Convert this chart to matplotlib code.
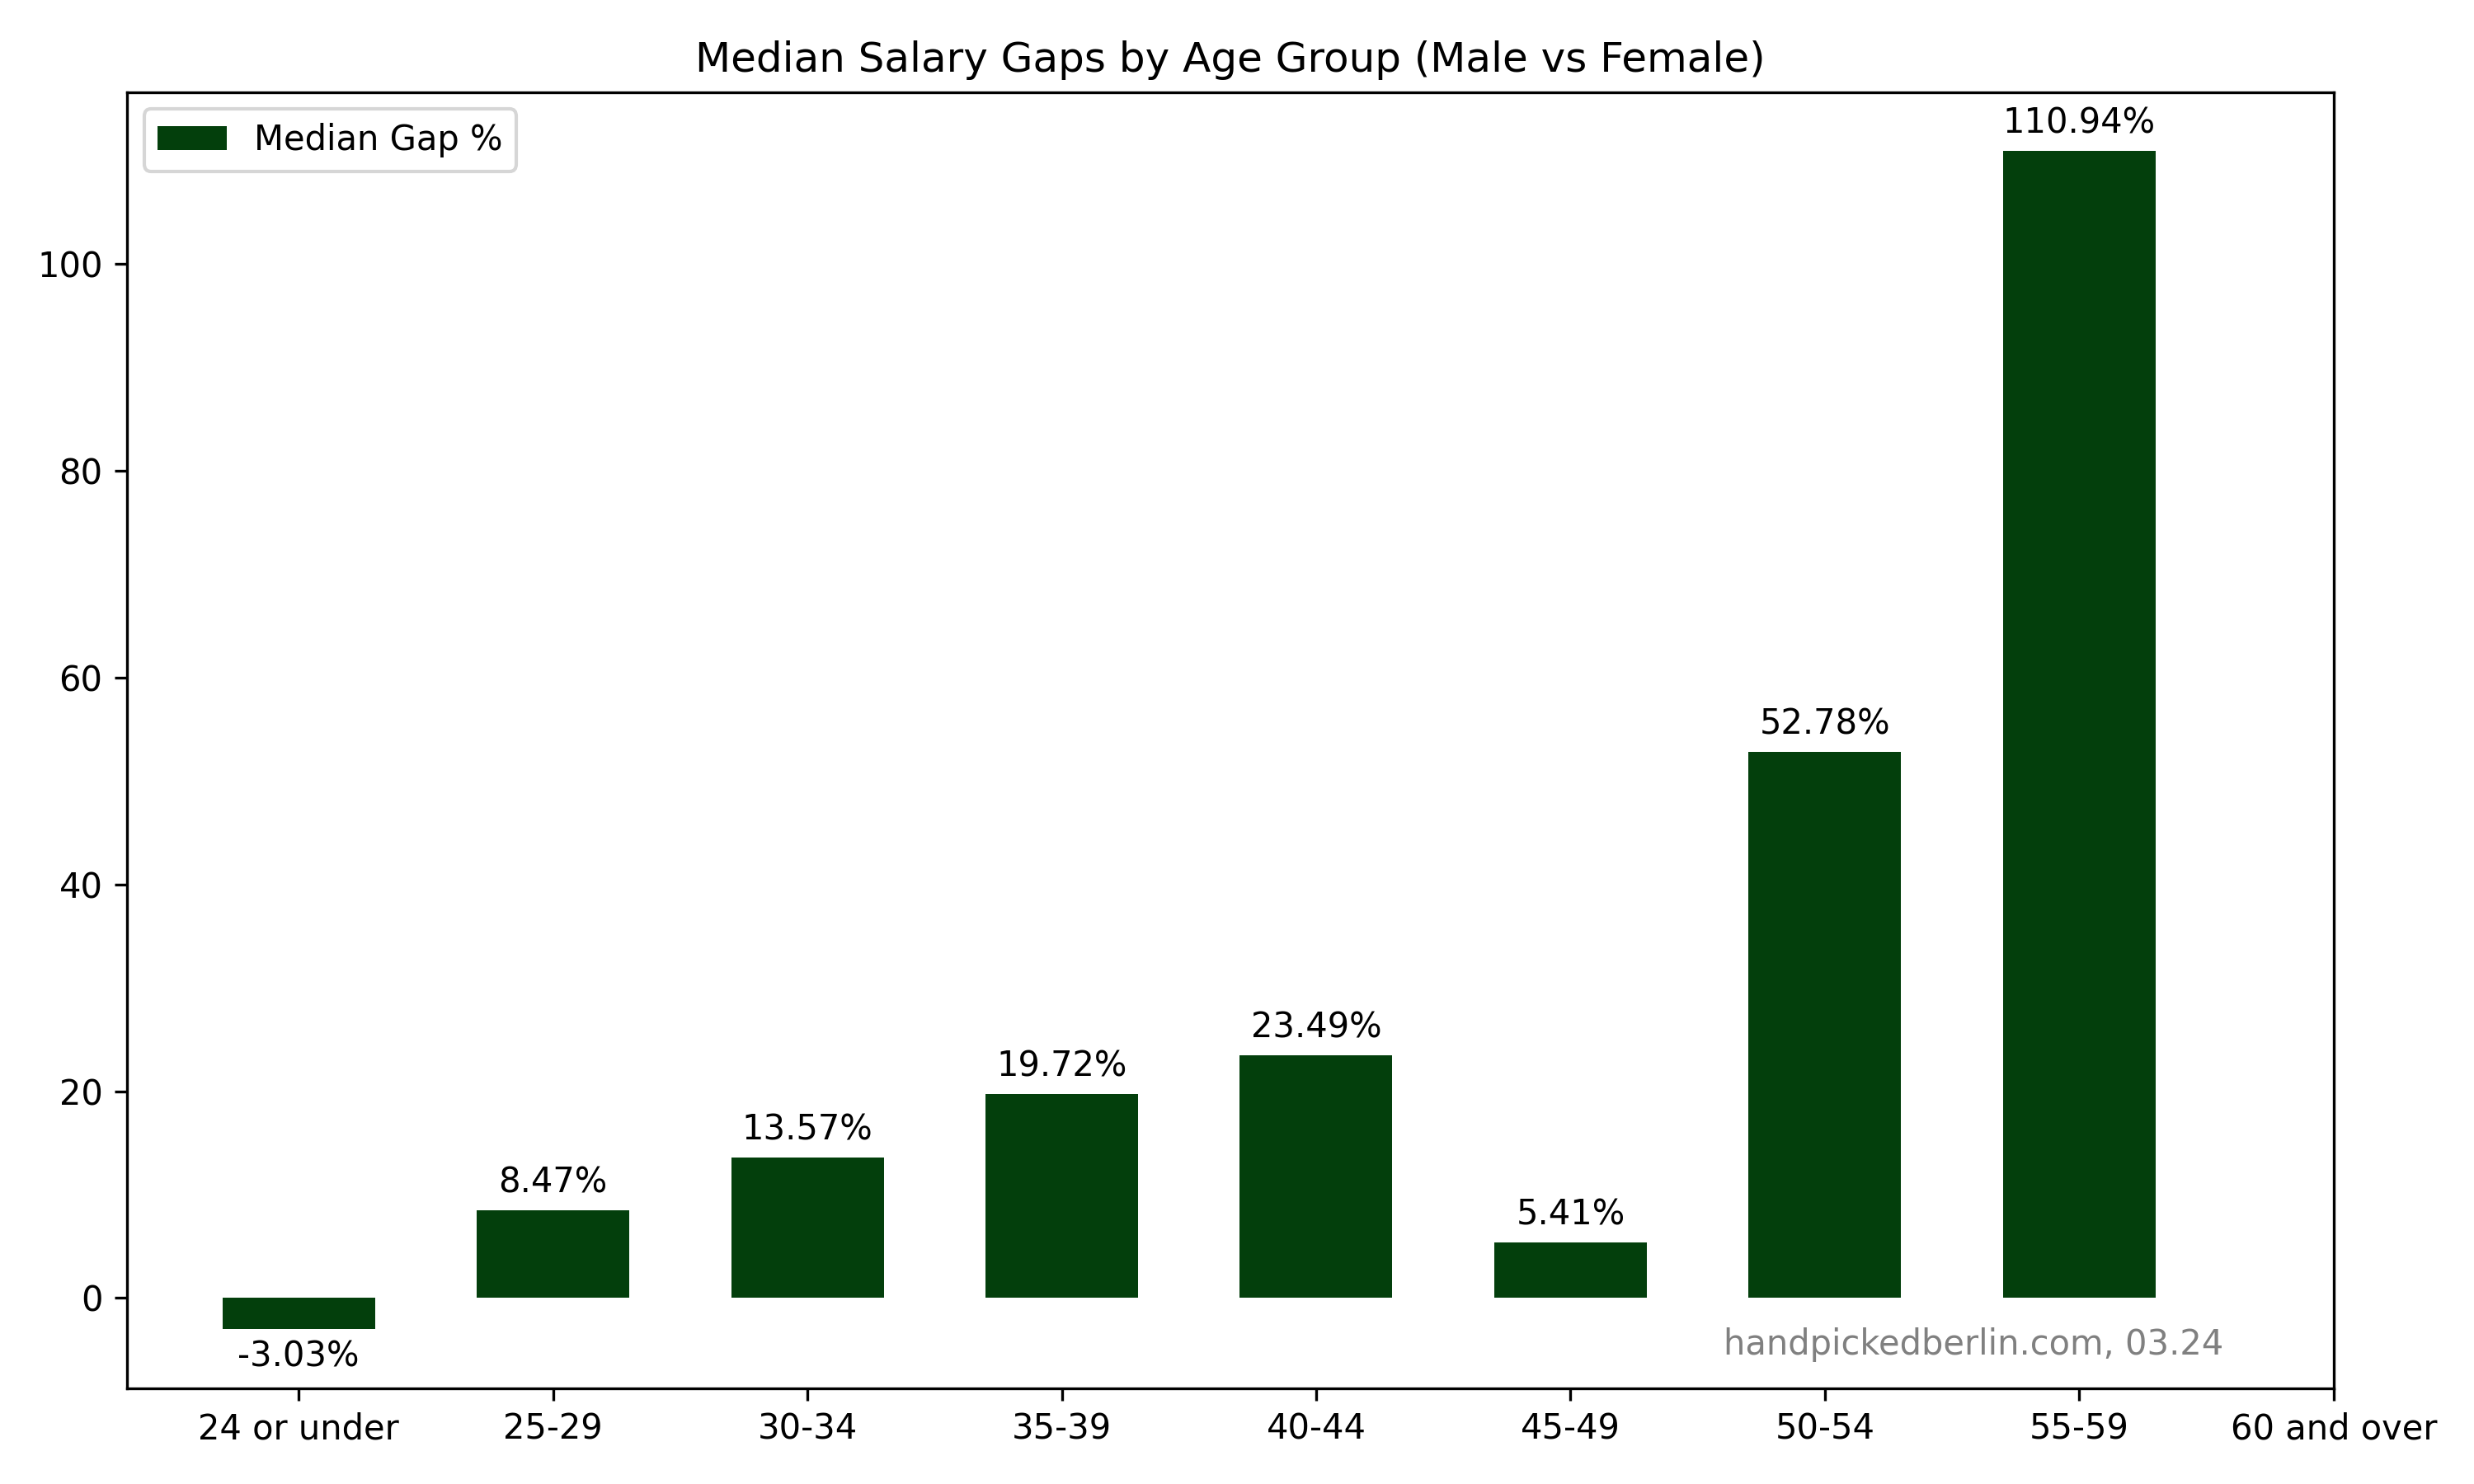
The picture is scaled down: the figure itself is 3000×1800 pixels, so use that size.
import matplotlib
matplotlib.use("Agg")
import matplotlib.pyplot as plt
import numpy as np

categories = ["24 or under", "25-29", "30-34", "35-39", "40-44", "45-49", "50-54", "55-59", "60 and over"]
median_gap = [-3.03, 8.47, 13.57, 19.72, 23.49, 5.41, 52.78, 110.94, np.nan]

fig, ax = plt.subplots(figsize=(10, 6), dpi=300)
x = np.arange(len(categories))
bars = ax.bar(x, median_gap, width=0.6, color="#033f0c", label="Median Gap %")
for xi, v in zip(x, median_gap):
    if np.isnan(v):
        continue
    if v >= 0:
        ax.annotate(f"{v:.2f}%", (xi, v), xytext=(0, 3), textcoords="offset points",
                    ha="center", va="bottom", fontsize=10)
    else:
        ax.annotate(f"{v:.2f}%", (xi, v), xytext=(0, -3), textcoords="offset points",
                    ha="center", va="top", fontsize=10)
ax.set_xticks(x)
ax.set_xticklabels(categories)
ax.set_xlim(-0.676, 8)
ax.set_title("Median Salary Gaps by Age Group (Male vs Female)")
ax.legend(loc="upper left")
ax.text(0.95, 0.02, "handpickedberlin.com, 03.24", transform=ax.transAxes,
        ha="right", va="bottom", color="gray", fontsize=10)
fig.tight_layout()
fig.subplots_adjust(top=0.938)
fig.savefig("out.png", dpi=300)
